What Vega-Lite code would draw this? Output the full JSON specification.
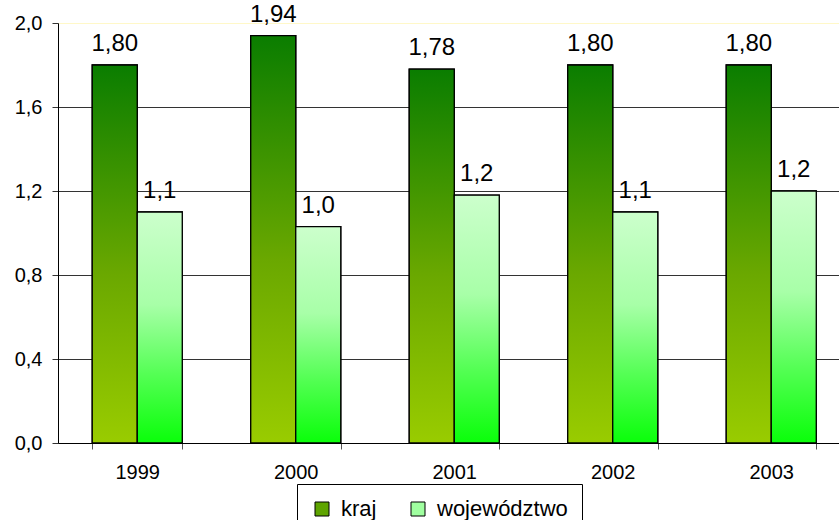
{
  "$schema": "https://vega.github.io/schema/vega-lite/v6.json",
  "width": 781,
  "height": 420,
  "autosize": {"type": "none"},
  "padding": {"left": 58, "top": 23, "right": 0, "bottom": 77},
  "background": "white",
  "data": {
    "values": [
      {"rok": "1999", "seria": "kraj", "wartosc": 1.80},
      {"rok": "1999", "seria": "województwo", "wartosc": 1.10},
      {"rok": "2000", "seria": "kraj", "wartosc": 1.94},
      {"rok": "2000", "seria": "województwo", "wartosc": 1.03},
      {"rok": "2001", "seria": "kraj", "wartosc": 1.78},
      {"rok": "2001", "seria": "województwo", "wartosc": 1.18},
      {"rok": "2002", "seria": "kraj", "wartosc": 1.80},
      {"rok": "2002", "seria": "województwo", "wartosc": 1.10},
      {"rok": "2003", "seria": "kraj", "wartosc": 1.80},
      {"rok": "2003", "seria": "województwo", "wartosc": 1.20}
    ]
  },
  "encoding": {
    "x": {
      "field": "rok",
      "type": "nominal",
      "scale": {"range": [0, 792.5], "paddingInner": 0.432, "paddingOuter": 0.216},
      "axis": {
        "title": null,
        "labelAngle": 0,
        "labelFont": "Liberation Sans",
        "labelFontSize": 20,
        "labelColor": "black",
        "domainColor": "black",
        "domainWidth": 1,
        "tickColor": "#555",
        "tickSize": 6,
        "tickBand": "extent",
        "labelPadding": 13,
        "grid": false
      }
    },
    "xOffset": {
      "field": "seria",
      "type": "nominal",
      "sort": ["kraj", "województwo"],
      "scale": {"paddingInner": 0, "paddingOuter": 0}
    },
    "y": {
      "field": "wartosc",
      "type": "quantitative",
      "scale": {"domain": [0, 2], "nice": false},
      "axis": {
        "title": null,
        "values": [0, 0.4, 0.8, 1.2, 1.6, 2.0],
        "format": ".1f",
        "labelFont": "Liberation Sans",
        "labelFontSize": 20,
        "labelColor": "black",
        "labelPadding": 10,
        "domainColor": "black",
        "domainWidth": 1,
        "tickColor": "#333",
        "tickSize": 6,
        "grid": true,
        "gridColor": {"condition": {"test": "datum.value === 2", "value": "#fff8c8"}, "value": "#333333"},
        "gridWidth": 1
      }
    }
  },
  "layer": [
    {
      "mark": {"type": "bar", "stroke": "black", "strokeWidth": 1.3},
      "encoding": {
        "color": {
          "field": "seria",
          "type": "nominal",
          "sort": ["kraj", "województwo"],
          "scale": {"range": ["#5ea400", "#a0ffa0"]},
          "legend": {
            "orient": "none",
            "legendX": 239,
            "legendY": 461,
            "direction": "horizontal",
            "title": null,
            "strokeColor": "black",
            "fillColor": "white",
            "padding": 14,
            "symbolType": "square",
            "symbolSize": 196,
            "symbolStrokeColor": "black",
            "symbolStrokeWidth": 1,
            "symbolOpacity": 1,
            "labelFont": "Liberation Sans",
            "labelFontSize": 22,
            "labelColor": "black",
            "labelOffset": 8,
            "columnPadding": 30
          }
        }
      }
    },
    {
      "transform": [{"filter": "datum.seria === 'kraj'"}],
      "mark": {
        "type": "bar", "stroke": "black", "strokeWidth": 1.3,
        "fill": {"gradient": "linear", "x1": 0, "y1": 0, "x2": 0, "y2": 1, "stops": [
          {"offset": 0, "color": "#0a7d00"},
          {"offset": 0.55, "color": "#6aa800"},
          {"offset": 1, "color": "#99cc00"}
        ]}
      }
    },
    {
      "transform": [{"filter": "datum.seria === 'województwo'"}],
      "mark": {
        "type": "bar", "stroke": "black", "strokeWidth": 1.3,
        "fill": {"gradient": "linear", "x1": 0, "y1": 0, "x2": 0, "y2": 1, "stops": [
          {"offset": 0, "color": "#ccffcc"},
          {"offset": 0.4, "color": "#a8ffa8"},
          {"offset": 0.7, "color": "#55ff55"},
          {"offset": 1, "color": "#0aff0a"}
        ]}
      }
    },
    {
      "transform": [{"filter": "datum.seria === 'kraj'"}],
      "mark": {"type": "text", "dy": -14, "baseline": "alphabetic", "font": "Liberation Sans", "fontSize": 24, "color": "black"},
      "encoding": {"text": {"field": "wartosc", "type": "quantitative", "format": ".2f"}}
    },
    {
      "transform": [{"filter": "datum.seria === 'województwo'"}],
      "mark": {"type": "text", "dy": -14, "baseline": "alphabetic", "font": "Liberation Sans", "fontSize": 24, "color": "black"},
      "encoding": {"text": {"field": "wartosc", "type": "quantitative", "format": ".1f"}}
    }
  ],
  "config": {
    "view": {"stroke": null},
    "locale": {"number": {"decimal": ",", "thousands": " ", "grouping": [3], "currency": ["", " zł"]}}
  }
}
